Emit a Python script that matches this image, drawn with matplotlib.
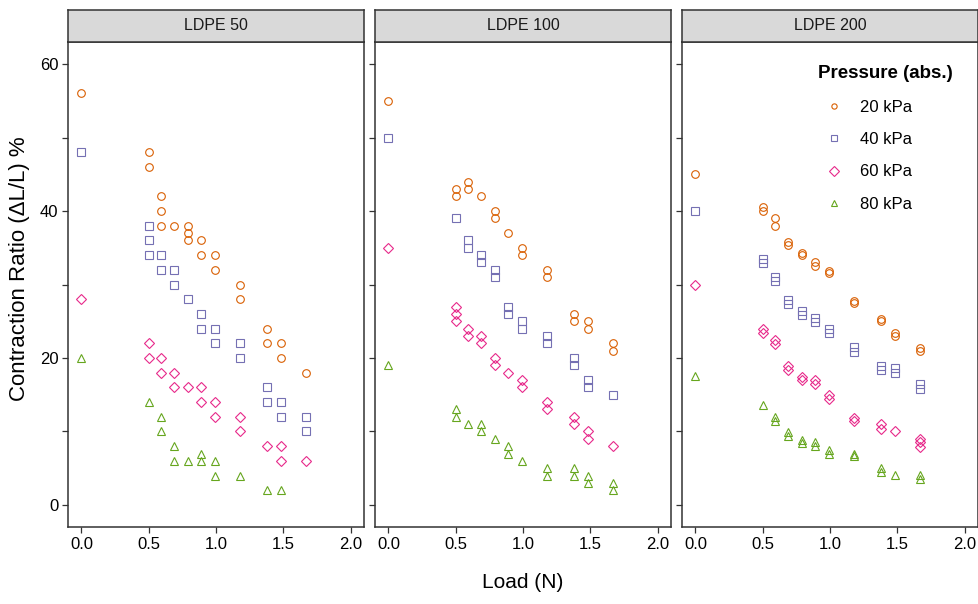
import matplotlib
matplotlib.use("Agg")
import matplotlib.pyplot as plt
from matplotlib.lines import Line2D

plt.rcParams['font.family'] = ['Liberation Sans', 'DejaVu Sans']

# applied loads (N)
loads = [0.0, 0.5, 0.59, 0.69, 0.79, 0.89, 0.99, 1.18, 1.38, 1.48, 1.67]

panels = ["LDPE 50", "LDPE 100", "LDPE 200"]
pressures = ["20 kPa", "40 kPa", "60 kPa", "80 kPa"]

# contraction ratio (%) -- replicate readings at each load
ldpe50_20 = [[56], [48, 46], [42, 40, 38], [38], [38, 37, 36], [36, 34], [34, 32], [30, 28], [24, 22], [22, 20], [18]]
ldpe50_40 = [[48], [38, 36, 34], [34, 32], [32, 30], [28], [26, 24], [24, 22], [22, 20], [16, 14], [14, 12], [12, 10]]
ldpe50_60 = [[28], [22, 20], [20, 18], [18, 16], [16], [16, 14], [14, 12], [12, 10], [8], [8, 6], [6]]
ldpe50_80 = [[20], [14], [12, 10], [8, 6], [6], [7, 6], [6, 4], [4], [2], [2], []]

ldpe100_20 = [[55], [43, 42], [44, 43], [42], [40, 39], [37], [35, 34], [32, 31], [26, 25], [25, 24], [22, 21]]
ldpe100_40 = [[50], [39], [36, 35], [34, 33], [32, 31], [27, 26], [25, 24], [23, 22], [20, 19], [17, 16], [15]]
ldpe100_60 = [[35], [27, 26, 25], [24, 23], [23, 22], [20, 19], [18], [17, 16], [14, 13], [12, 11], [10, 9], [8]]
ldpe100_80 = [[19], [13, 12], [11], [11, 10], [9], [8, 7], [6], [5, 4], [5, 4], [4, 3], [3, 2]]

ldpe200_20 = [[45], [40.5, 40], [39, 38], [35.8, 35.4], [34.3, 34], [33, 32.5], [31.9, 31.5], [27.8, 27.5], [25.3, 25], [23.4, 23], [21.4, 20.9]]
ldpe200_40 = [[40], [33.5, 32.9], [31, 30.5], [27.9, 27.4], [26.4, 25.9], [25.5, 24.9], [24, 23.4], [21.5, 20.8], [18.9, 18.4], [18.6, 17.9], [16.5, 15.8]]
ldpe200_60 = [[30], [23.9, 23.4], [22.4, 21.9], [18.9, 18.3], [17.4, 17], [17, 16.4], [14.9, 14.4], [11.9, 11.4], [11, 10.4], [10], [9, 8.5, 7.9]]
ldpe200_80 = [[17.6], [13.6], [12, 11.4], [9.9, 9.4], [8.9, 8.4], [8.5, 8], [7.5, 7], [7, 6.6], [5, 4.5], [4.1], [4.1, 3.6]]

data = [
    [ldpe50_20, ldpe50_40, ldpe50_60, ldpe50_80],
    [ldpe100_20, ldpe100_40, ldpe100_60, ldpe100_80],
    [ldpe200_20, ldpe200_40, ldpe200_60, ldpe200_80],
]

colors = ["#D95F02", "#7570B3", "#E7298A", "#66A61E"]
markers = ["o", "s", "D", "^"]
msizes = [5.5, 5.6, 4.8, 6.0]
leg_sizes = [3.8, 3.8, 4.6, 5.0]

W, H = 979, 604
fig = plt.figure(figsize=(W / 100, H / 100), dpi=100)

lefts = [68, 375, 682]
pw = 296
top, bot, strip_top = 42, 527, 10
dark = "#333333"

axes = []
for i, name in enumerate(panels):
    ax = fig.add_axes([lefts[i] / W, 1 - bot / H, pw / W, (bot - top) / H])
    for j in range(4):
        xs, ys = [], []
        for x, vals in zip(loads, data[i][j]):
            for v in vals:
                xs.append(x)
                ys.append(v)
        ax.plot(xs, ys, linestyle="none", marker=markers[j], ms=msizes[j],
                mfc="none", mec=colors[j], mew=0.8)
    ax.set_xlim(-0.1, 2.1)
    ax.set_ylim(-3, 63)
    ax.set_xticks([0, 0.5, 1.0, 1.5, 2.0])
    ax.set_xticklabels(["0.0", "0.5", "1.0", "1.5", "2.0"])
    ax.set_yticks(range(0, 61, 10))
    if i == 0:
        ax.set_yticklabels(["0", "", "20", "", "40", "", "60"])
    else:
        ax.set_yticklabels([])
    ax.tick_params(length=4, width=0.9, color=dark, labelsize=12, pad=3, labelcolor="black")
    for s in ax.spines.values():
        s.set_color(dark)
        s.set_linewidth(1.1)

    # facet strip
    sax = fig.add_axes([lefts[i] / W, 1 - top / H, pw / W, (top - strip_top) / H])
    sax.set_facecolor("#D9D9D9")
    sax.set_xticks([])
    sax.set_yticks([])
    for s in sax.spines.values():
        s.set_color(dark)
        s.set_linewidth(1.1)
    sax.text(0.5, 0.5, name, ha="center", va="center", fontsize=11.5, color="#1A1A1A",
             transform=sax.transAxes)
    axes.append(ax)

handles = [Line2D([], [], linestyle="none", marker=markers[j], ms=leg_sizes[j],
                  mfc="none", mec=colors[j], mew=0.8) for j in range(4)]
leg = axes[2].legend(handles, pressures, title="Pressure (abs.)", loc="upper left",
                     bbox_to_anchor=(818 / W, 1 - 65 / H), bbox_transform=fig.transFigure,
                     frameon=False, borderpad=0, borderaxespad=0, fontsize=12,
                     handlelength=1.9, handletextpad=0.6, labelspacing=1.05,
                     alignment="left", title_fontproperties={"weight": "bold", "size": 13.5})

fig.text(523 / W, 1 - 583 / H, "Load (N)", ha="center", va="center", fontsize=15)
fig.text(20 / W, 1 - 268.5 / H, "Contraction Ratio (\u0394L/L) %", ha="center", va="center",
         rotation=90, fontsize=16)

fig.savefig("out.png", dpi=100)
